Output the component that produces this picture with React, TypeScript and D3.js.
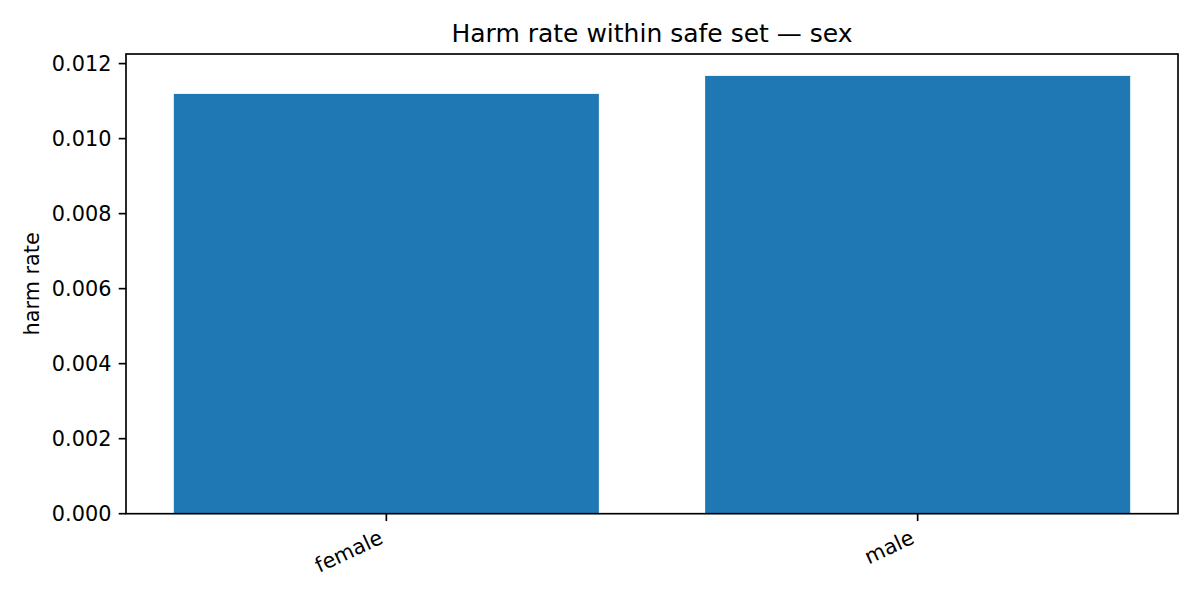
import React from 'react';
import * as d3 from 'd3';

const categories = ['female', 'male'];
const harmRates = [0.011192, 0.011672];
const yTicks = [0, 0.002, 0.004, 0.006, 0.008, 0.01, 0.012];

const W = 1200, H = 600;
const margin = { top: 54, right: 22, bottom: 86.3, left: 126 };
const font = 'DejaVu Sans, sans-serif';
const tickFs = 20.8;

export default function App() {
  const x = d3.scaleLinear()
    .domain([-0.49, categories.length - 1 + 0.49])
    .range([margin.left, W - margin.right]);
  const y = d3.scaleLinear()
    .domain([0, d3.max(harmRates)! * 1.05])
    .range([H - margin.bottom, margin.top]);

  const x0 = margin.left, x1 = W - margin.right;
  const y0 = H - margin.bottom, y1 = margin.top;
  const tickLen = 7.3, pad = 7.3;
  const fmt = d3.format('.3f');
  const asc = 0.76 * tickFs, desc = 0.24 * tickFs;
  const rot = 25 * Math.PI / 180;

  return (
    <svg width={W} height={H} style={{ position: 'absolute', left: 0, top: 0, background: '#fff' }}
      fontFamily={font}>
      <rect x={0} y={0} width={W} height={H} fill="#fff" />
      {categories.map((c, i) => (
        <rect key={c} x={x(i - 0.4)} y={y(harmRates[i])}
          width={x(i + 0.4) - x(i - 0.4)} height={y(0) - y(harmRates[i])} fill="#1f77b4" />
      ))}
      <rect x={x0} y={y1} width={x1 - x0} height={y0 - y1} fill="none" stroke="#000" strokeWidth={1.67} />
      {yTicks.map(t => (
        <g key={t}>
          <line x1={x0 - tickLen} x2={x0} y1={y(t)} y2={y(t)} stroke="#000" strokeWidth={1.67} />
          <text x={x0 - tickLen - pad} y={y(t)} dy="0.36em" textAnchor="end" fontSize={tickFs} fill="#000">{fmt(t)}</text>
        </g>
      ))}
      {categories.map((c, i) => {
        const ax = x(i) - desc * Math.sin(rot);
        const ay = y0 + tickLen + pad + asc * Math.cos(rot);
        return (
          <g key={c}>
            <line x1={x(i)} x2={x(i)} y1={y0} y2={y0 + tickLen} stroke="#000" strokeWidth={1.67} />
            <text transform={`translate(${ax},${ay}) rotate(-25)`} textAnchor="end" fontSize={tickFs} fill="#000">{c}</text>
          </g>
        );
      })}
      <text transform={`translate(38.5,${(y0 + y1) / 2}) rotate(-90)`} textAnchor="middle" fontSize={tickFs} fill="#000">harm rate</text>
      <text x={(x0 + x1) / 2} y={y1 - 12.5} textAnchor="middle" fontSize={25} fill="#000">Harm rate within safe set — sex</text>
    </svg>
  );
}
